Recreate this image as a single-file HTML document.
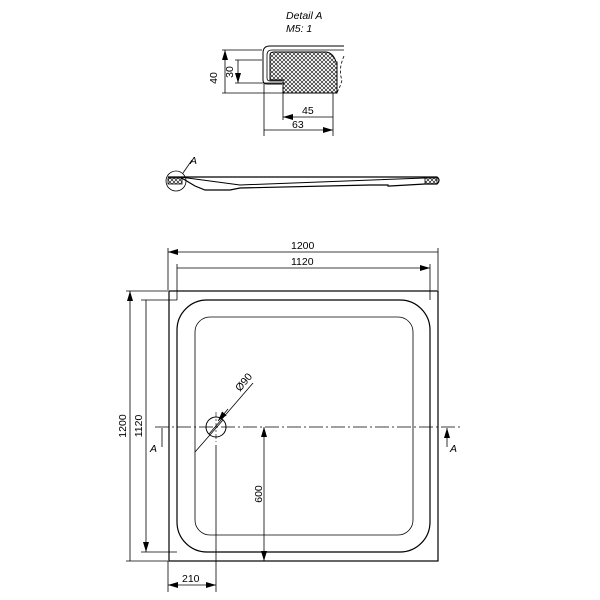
<!DOCTYPE html><html><head><style>body{margin:0;background:#fff}svg{display:block}text{font-family:"Liberation Sans",sans-serif;font-size:10.5px;fill:#000}</style></head><body>
<svg width="600" height="600" viewBox="0 0 600 600">
<defs>
<pattern id="h" width="4" height="4" patternUnits="userSpaceOnUse"><path d="M0 0L4 4M4 0L0 4" stroke="#000" stroke-width="0.6"/></pattern>
<marker id="a" viewBox="0 0 10 6" refX="10" refY="3" markerWidth="10" markerHeight="6" orient="auto-start-reverse" markerUnits="userSpaceOnUse"><path d="M0 0L10 3L0 6z" fill="#000"/></marker>
</defs>
<g fill="none" stroke="#000" stroke-width="0.8">
<!-- detail -->
<text x="286" y="19" stroke="none" font-style="italic">Detail  A</text>
<text x="286" y="32" stroke="none" font-style="italic">M5: 1</text>
<path d="M344 46H270Q263 46 263 53V80Q263 84 267 84H282" stroke-width="1"/>
<path d="M344 50H272Q267 50 267 55V78Q267 81 270 81H282"/>
<path d="M270 55Q270 52 274 52H325Q333 52 336 62H337V93H283V80H270Z" fill="url(#h)" stroke-width="1"/>
<path d="M344 56Q338 70 342 80Q340 88 336 94" stroke-dasharray="3 2"/>
<path d="M222 50H262M235 60H262M235 83H285M222 93H283"/>
<path d="M225 50V93M238 60V83" marker-start="url(#a)" marker-end="url(#a)"/>
<path d="M264 84V136M283 93V120M333 93V136"/>
<path d="M283 117H333M264 130H333" marker-start="url(#a)" marker-end="url(#a)"/>
<text x="217" y="78" stroke="none" transform="rotate(-90 217 78)" text-anchor="middle">40</text>
<text x="236" y="72" stroke="none" transform="rotate(-90 236 72)" text-anchor="middle" dy="-3">30</text>
<text x="302" y="114" stroke="none">45</text>
<text x="292" y="128" stroke="none">63</text>
<!-- side view -->
<circle cx="176" cy="181" r="10"/>
<path d="M183 173L192 160"/>
<text x="190" y="164" stroke="none" font-style="italic">A</text>
<path d="M168 177H437Q441 180 437 184H425L390 186H388V185H370L240 188L230 190H205L195 186L180 177" stroke-width="1.2"/>
<path d="M180 177L240 185L425 178" stroke-width="1"/>
<rect x="168" y="178" width="14" height="6" fill="url(#h)"/>
<rect x="425" y="178" width="12" height="6" fill="url(#h)"/>
<!-- plan -->
<rect x="169" y="291" width="269" height="270" stroke-width="1.2"/>
<rect x="177" y="300" width="253" height="252" rx="30" stroke-width="1.2"/>
<rect x="195" y="317" width="218" height="218" rx="15"/>
<path d="M168 290V248M177 300V264M438 290V248M430 300V264"/>
<path d="M168 252H438M177 268H430" marker-start="url(#a)" marker-end="url(#a)"/>
<text x="291" y="249" stroke="none">1200</text>
<text x="291" y="265" stroke="none">1120</text>
<path d="M126 291H168M141 300H177M126 561H168M141 552H177"/>
<path d="M130 291V561M146 300V552" marker-start="url(#a)" marker-end="url(#a)"/>
<text x="126" y="426" stroke="none" transform="rotate(-90 126 426)" text-anchor="middle">1200</text>
<text x="142" y="426" stroke="none" transform="rotate(-90 142 426)" text-anchor="middle">1120</text>
<circle cx="216" cy="427" r="10" stroke-width="1"/>
<path d="M155 427H460" stroke-dasharray="14 3 2 3" stroke-width="0.7"/>
<path d="M216 412V442" stroke-dasharray="5 2 2 2" stroke-width="0.6"/>
<path d="M216 445V592"/>
<path d="M195 452L223 420M209 434L253 383" />
<path d="M218 421L228 409" marker-start="url(#a)"/>
<text x="240" y="392" stroke="none" transform="rotate(-50 240 392)">Ø90</text>
<path d="M264 427V561" marker-start="url(#a)" marker-end="url(#a)"/>
<text x="262" y="494" stroke="none" transform="rotate(-90 262 494)" text-anchor="middle">600</text>
<path d="M168 561V592"/>
<path d="M168 585H216" marker-start="url(#a)" marker-end="url(#a)"/>
<text x="182" y="582" stroke="none">210</text>
<path d="M162 447V428M447 447V428" marker-end="url(#a)"/>
<text x="150" y="452" stroke="none" font-style="italic">A</text>
<text x="450" y="452" stroke="none" font-style="italic">A</text>
</g>
</svg>
</body></html>
